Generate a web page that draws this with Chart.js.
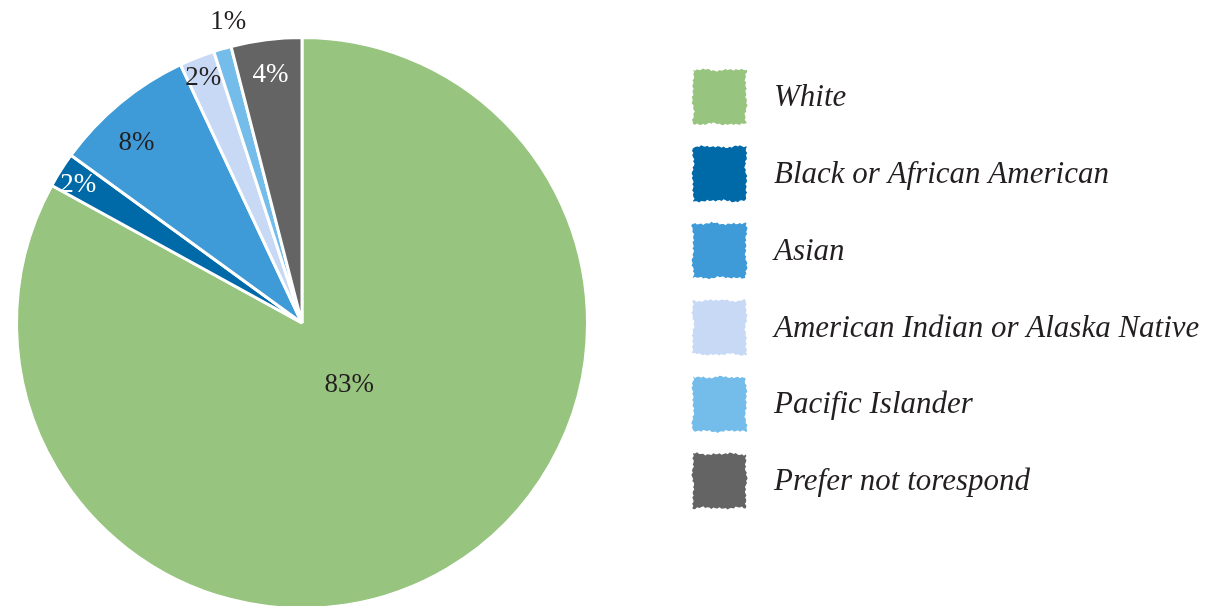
<!DOCTYPE html>
<html>
<head>
<meta charset="utf-8">
<script src="https://cdn.jsdelivr.net/npm/chart.js@4/dist/chart.umd.min.js"></script>
<style>
  html, body { margin: 0; padding: 0; background: #fff; overflow: hidden; }
  #wrap { width: 1212px; height: 620px; }
</style>
</head>
<body>
<div id="wrap"><canvas id="c" width="1212" height="620"></canvas></div>
<script>
// Respondent race / ethnicity breakdown (percent)
const categories = [
  'White',
  'Black or African American',
  'Asian',
  'American Indian or Alaska Native',
  'Pacific Islander',
  'Prefer not torespond'
];
const shares = [83, 2, 8, 2, 1, 4];
const sliceColors = ['#97c47e', '#0069a8', '#3e9bd7', '#c8d9f5', '#74bce9', '#646464'];
const labelColors = ['#231f20', '#ffffff', '#231f20', '#231f20', '#231f20', '#ffffff'];
// radial position of each value label, as a fraction of the pie radius, plus a small pixel nudge
const labelRadius = [0.27, 0.92, 0.86, 0.93, 1.09, 0.88];
const labelNudge = [[8, -4], [-2, 3], [-9, 9], [-1, 2], [13, -2], [0, 1]];

const SERIF = '"Liberation Serif", "Times New Roman", serif';

// Value labels placed along each slice's mid-angle
const sliceLabels = {
  id: 'sliceLabels',
  afterDatasetsDraw(chart) {
    const ctx = chart.ctx;
    const arcs = chart.getDatasetMeta(0).data;
    ctx.save();
    ctx.font = '27px ' + SERIF;
    ctx.textAlign = 'center';
    ctx.textBaseline = 'middle';
    arcs.forEach((arc, i) => {
      const p = arc.getProps(['x', 'y', 'startAngle', 'endAngle', 'outerRadius'], true);
      const mid = (p.startAngle + p.endAngle) / 2;
      const r = p.outerRadius * labelRadius[i];
      const x = p.x + Math.cos(mid) * r + labelNudge[i][0];
      const y = p.y + Math.sin(mid) * r + labelNudge[i][1];
      ctx.fillStyle = labelColors[i];
      ctx.fillText(shares[i] + '%', x, y);
    });
    ctx.restore();
  }
};

// Legend on the right with slightly ragged swatches
const sideLegend = {
  id: 'sideLegend',
  afterDraw(chart) {
    const ctx = chart.ctx;
    const x0 = 693, w = 53, h = 54, textX = 774, firstY = 97, step = 76.8;
    ctx.save();
    categories.forEach((name, i) => {
      const cy = firstY + i * step;
      const top = cy - h / 2;
      ctx.fillStyle = sliceColors[i];
      ctx.beginPath();
      const n = 26;
      const jag = (k) => 0.8 * Math.sin(k * 2.3 + i * 1.3) + 0.6 * Math.sin(k * 5.9 + i) + 0.5 * Math.sin(k * 0.7 + i * 2);
      for (let k = 0; k <= n; k++) ctx.lineTo(x0 + w * k / n, top + jag(k));
      for (let k = 0; k <= n; k++) ctx.lineTo(x0 + w + jag(k + 30), top + h * k / n);
      for (let k = n; k >= 0; k--) ctx.lineTo(x0 + w * k / n, top + h + jag(k + 60));
      for (let k = n; k >= 0; k--) ctx.lineTo(x0 + jag(k + 90), top + h * k / n);
      ctx.closePath();
      ctx.fill();
      ctx.fillStyle = '#231f20';
      ctx.font = 'italic 31px ' + SERIF;
      ctx.textAlign = 'left';
      ctx.textBaseline = 'middle';
      ctx.fillText(name, textX, cy + 1);
    });
    ctx.restore();
  }
};

new Chart(document.getElementById('c'), {
  type: 'pie',
  data: {
    labels: categories,
    datasets: [{
      data: shares,
      backgroundColor: sliceColors,
      borderColor: '#ffffff',
      borderWidth: 3
    }]
  },
  options: {
    responsive: false,
    devicePixelRatio: 1,
    animation: false,
    layout: { padding: { left: 15, top: 36, right: 623, bottom: 10 } },
    plugins: {
      legend: { display: false },
      tooltip: { enabled: false }
    }
  },
  plugins: [sliceLabels, sideLegend]
});
</script>
</body>
</html>
